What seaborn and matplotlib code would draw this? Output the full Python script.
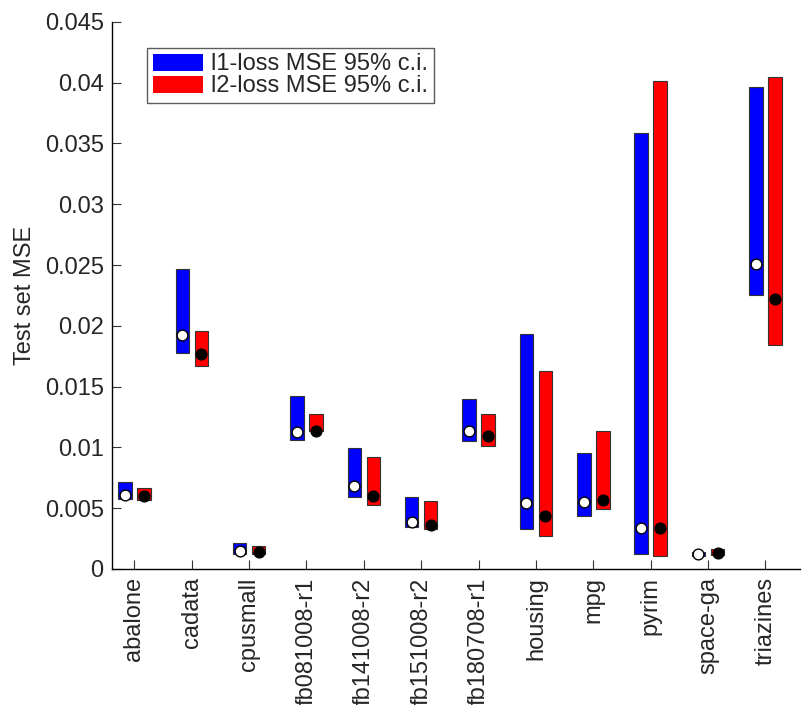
import numpy as np
import pandas as pd
import matplotlib
matplotlib.use("Agg")
import matplotlib.pyplot as plt
import seaborn as sns
from matplotlib.patches import Patch

datasets = ["abalone", "cadata", "cpusmall", "fb081008-r1", "fb141008-r2",
            "fb151008-r2", "fb180708-r1", "housing", "mpg", "pyrim",
            "space-ga", "triazines"]

l1_low = [0.00577, 0.01777, 0.00124, 0.01064, 0.00590, 0.00344, 0.01051,
          0.00332, 0.00437, 0.00122, 0.00108, 0.02252]
l1_high = [0.00714, 0.02468, 0.00215, 0.01421, 0.00998, 0.00590, 0.01396,
           0.01931, 0.00955, 0.03589, 0.00143, 0.03962]
l1_mean = [0.00612, 0.01925, 0.00146, 0.01130, 0.00683, 0.00382, 0.01138,
           0.00541, 0.00552, 0.00340, 0.00124, 0.02507]

l2_low = [0.00568, 0.01670, 0.00124, 0.01138, 0.00522, 0.00327, 0.01015,
          0.00270, 0.00492, 0.00110, 0.00118, 0.01840]
l2_high = [0.00667, 0.01961, 0.00190, 0.01276, 0.00922, 0.00558, 0.01278,
           0.01629, 0.01133, 0.04012, 0.00163, 0.04045]
l2_mean = [0.00604, 0.01771, 0.00138, 0.01136, 0.00604, 0.00363, 0.01097,
           0.00434, 0.00568, 0.00335, 0.00127, 0.02221]

yticks = [0, 0.005, 0.01, 0.015, 0.02, 0.025, 0.03, 0.035, 0.04, 0.045]
ytick_labels = ["0", "0.005", "0.01", "0.015", "0.02", "0.025", "0.03",
                "0.035", "0.04", "0.045"]

sns.set_style("white")
plt.rcParams["font.family"] = ["Liberation Sans", "DejaVu Sans"]

fig = plt.figure(figsize=(8.06, 7.05), dpi=100)
ax = fig.add_axes([0.139, 0.193, 0.854, 0.776])

x = np.arange(len(datasets))
off = 0.166
w = 0.235

ax.bar(x - off, np.array(l1_high) - np.array(l1_low), bottom=l1_low, width=w,
       color="#0000ff", edgecolor="#333333", linewidth=0.8, zorder=2)
ax.bar(x + off, np.array(l2_high) - np.array(l2_low), bottom=l2_low, width=w,
       color="#ff0000", edgecolor="#333333", linewidth=0.8, zorder=2)

df1 = pd.DataFrame({"x": x - off, "y": l1_mean})
df2 = pd.DataFrame({"x": x + off, "y": l2_mean})
sns.scatterplot(data=df1, x="x", y="y", ax=ax, color="white", edgecolor="black",
                linewidth=1.0, s=60, zorder=3, legend=False)
sns.scatterplot(data=df2, x="x", y="y", ax=ax, color="black", edgecolor="black",
                linewidth=1.0, s=60, zorder=3, legend=False)

ax.set_xlim(-0.39, 11.61)
ax.set_ylim(0, 0.045)
ax.set_xticks(x)
ax.set_xticklabels(datasets, rotation=90, fontsize=17)
ax.set_yticks(yticks)
ax.set_yticklabels(ytick_labels, fontsize=17)
ax.set_xlabel("")
ax.set_ylabel("Test set MSE", fontsize=17, labelpad=6)

ax.tick_params(axis="both", direction="in", length=6.5, width=0.8,
               color="#333333", pad=6, left=True, bottom=True)
for s in ["top", "right"]:
    ax.spines[s].set_visible(False)
for s in ["left", "bottom"]:
    ax.spines[s].set_color("black")
    ax.spines[s].set_linewidth(1.0)

handles = [Patch(facecolor="#0000ff", edgecolor="none", label="l1-loss MSE 95% c.i."),
           Patch(facecolor="#ff0000", edgecolor="none", label="l2-loss MSE 95% c.i.")]
leg = ax.legend(handles=handles, loc="upper left", bbox_to_anchor=(0.051, 0.953),
                borderaxespad=0, fontsize=17, frameon=True, fancybox=False,
                handlelength=2.1, handleheight=0.72, handletextpad=0.35,
                labelspacing=0.0, borderpad=0.25)
leg.get_frame().set_edgecolor("#333333")
leg.get_frame().set_linewidth(1.0)

fig.savefig("out.png", dpi=100)
